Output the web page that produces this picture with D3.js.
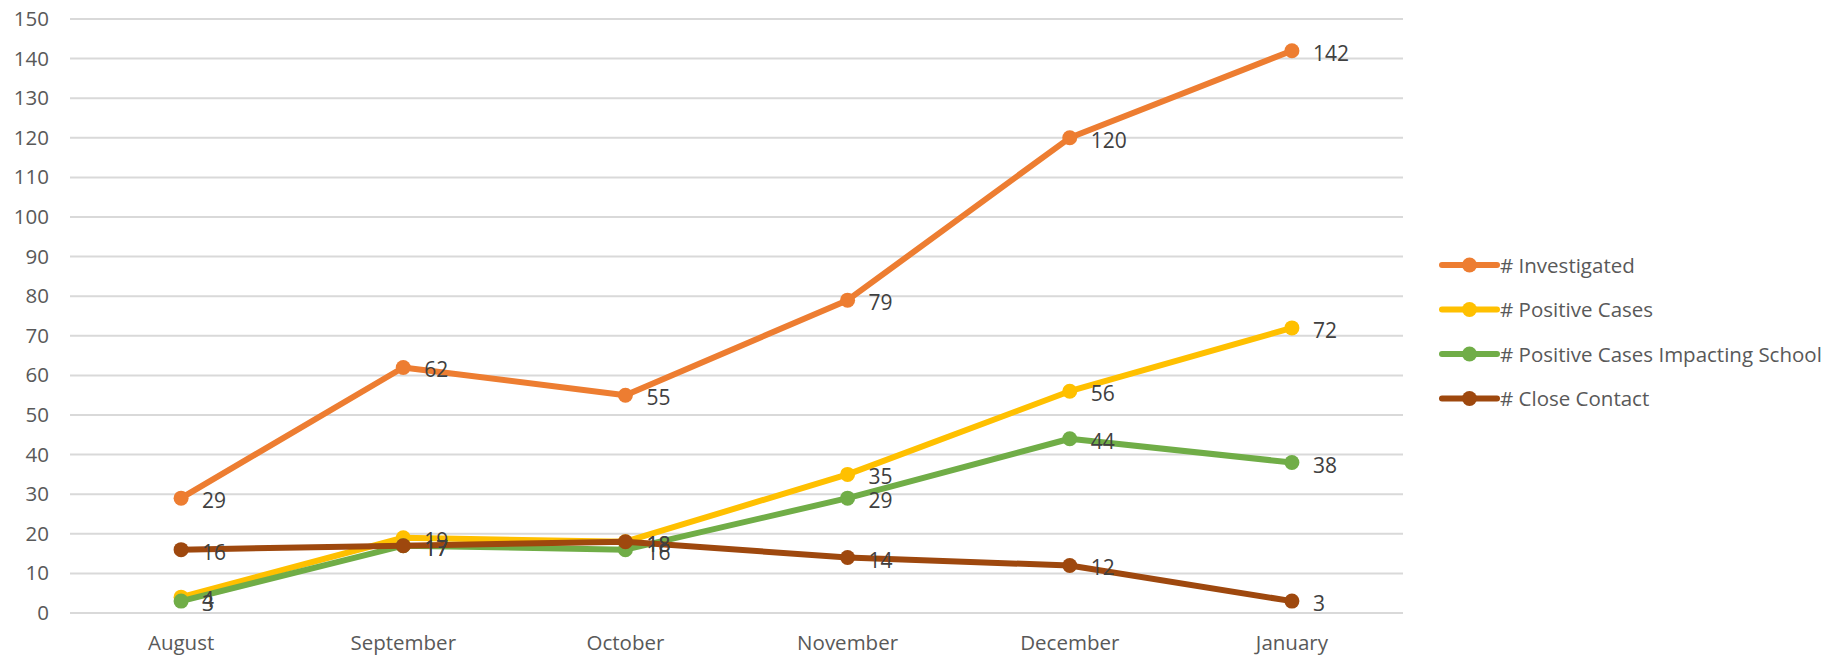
<!DOCTYPE html>
<html><head><meta charset="utf-8">
<script src="https://cdn.jsdelivr.net/npm/d3@7"></script>
<style>html,body{margin:0;padding:0;background:#fff;}svg{display:block;}</style>
</head><body>
<svg id="chart" width="1827" height="657"></svg>
<script>
const months = ["August","September","October","November","December","January"];
const investigated = [29, 62, 55, 79, 120, 142];
const positiveCases = [4, 19, 18, 35, 56, 72];
const positiveImpactingSchool = [3, 17, 16, 29, 44, 38];
const closeContact = [16, 17, 18, 14, 12, 3];
const seriesNames = ["# Investigated","# Positive Cases","# Positive Cases Impacting School","# Close Contact"];
const seriesColors = ["#ED7D31","#FFC000","#70AD47","#9E480E"];
const yTicks = d3.range(0, 151, 10);

const series = [investigated, positiveCases, positiveImpactingSchool, closeContact].map((v,i)=>({name:seriesNames[i], color:seriesColors[i], values:v}));

const svg = d3.select("#chart");
const FONT = "'Open Sans', sans-serif";
const plot = {left:70, right:1403, top:19, bottom:613};

const x = d3.scaleBand().domain(months).range([plot.left, plot.right]);
const y = d3.scaleLinear().domain([0,150]).range([plot.bottom, plot.top]);
const cx = m => x(m) + x.bandwidth()/2;

// gridlines
svg.append("g").selectAll("line").data(yTicks).join("line")
  .attr("x1", plot.left).attr("x2", plot.right)
  .attr("y1", d=>y(d)).attr("y2", d=>y(d))
  .attr("stroke", "#d9d9d9").attr("stroke-width", 2);

// y axis labels
const yAxis = svg.append("g").attr("transform", `translate(${plot.left-21},0)`)
  .call(d3.axisLeft(y).tickValues(yTicks).tickSize(0).tickPadding(0));
yAxis.select(".domain").remove();
yAxis.selectAll("text").attr("font-family", FONT).attr("font-size", 20.5).attr("fill", "#595959");

// x axis labels
const xAxis = svg.append("g").attr("transform", `translate(0,${plot.bottom})`)
  .call(d3.axisBottom(x).tickSize(0).tickPadding(22));
xAxis.select(".domain").remove();
xAxis.selectAll("text").attr("font-family", FONT).attr("font-size", 20.5).attr("fill", "#595959");

const line = d3.line().x((d,i)=>cx(months[i])).y(d=>y(d));

const g = svg.append("g");
series.forEach(s=>{
  g.append("path").datum(s.values).attr("d", line)
    .attr("fill","none").attr("stroke", s.color).attr("stroke-width", 6)
    .attr("stroke-linejoin","round").attr("stroke-linecap","round");
  g.selectAll(null).data(s.values).join("circle")
    .attr("cx", (d,i)=>cx(months[i])).attr("cy", d=>y(d)).attr("r", 7.5)
    .attr("fill", s.color);
});
// data labels
series.forEach(s=>{
  svg.append("g").selectAll("text").data(s.values).join("text")
    .attr("x", (d,i)=>cx(months[i]) + 21).attr("y", d=>y(d) + 10)
    .attr("font-family", FONT).attr("font-size", 21).attr("fill", "#404040")
    .text(d=>d);
});

// legend
const lg = svg.append("g");
series.forEach((s,i)=>{
  const ly = 265 + i*44.5;
  lg.append("line").attr("x1",1442).attr("x2",1497).attr("y1",ly).attr("y2",ly)
    .attr("stroke", s.color).attr("stroke-width",6).attr("stroke-linecap","round");
  lg.append("circle").attr("cx",1469.5).attr("cy",ly).attr("r",7.5).attr("fill",s.color);
  lg.append("text").attr("x",1500).attr("y",ly+7.5).attr("font-family",FONT)
    .attr("font-size",20.5).attr("fill","#595959").text(s.name);
});
</script>
</body></html>
